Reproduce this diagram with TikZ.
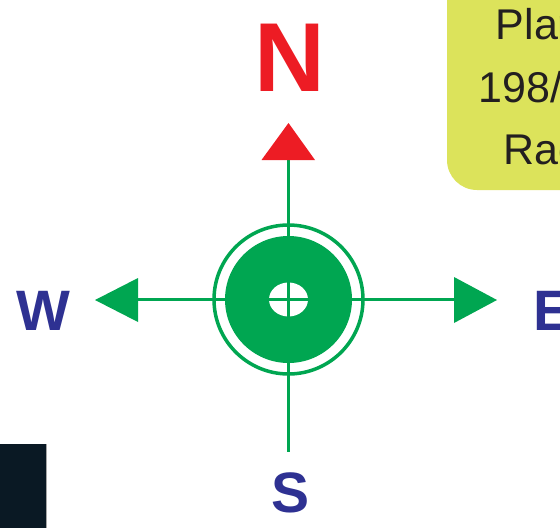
\documentclass[tikz,border=0pt]{standalone}
\usepackage{fontspec}
\setmainfont{Liberation Sans}
\definecolor{cred}{HTML}{ED1C24}
\definecolor{cgreen}{HTML}{00A651}
\definecolor{cblue}{HTML}{2E3192}
\definecolor{cyellow}{HTML}{DCE35B}
\definecolor{cdark}{HTML}{0A1924}
\definecolor{ctext}{HTML}{231F20}
\begin{document}
\begin{tikzpicture}[x=1pt,y=-1pt,
  dirlabel/.style={inner sep=0pt, anchor=base, font=\bfseries\fontsize{57}{57}\selectfont, text=cblue},
  boxtext/.style={inner sep=0pt, anchor=base west, font=\fontsize{43}{43}\selectfont, text=ctext},
  axis/.style={cgreen, line width=3pt},
  tip/.style={fill=cgreen}]
\useasboundingbox (0,0) rectangle (560,528);
\clip (0,0) rectangle (560,528);
% yellow box
\fill[cyellow, rounded corners=30pt] (447,-40) rectangle (620,190);
\node[boxtext] (t1) at (495.6,39) {Plan};
\node[boxtext] (t2) at (478.3,102) {198/};
\node[boxtext] (t3) at (503.6,164) {Rag};
% dark block
\fill[cdark] (0,444) rectangle (46,528);
\draw[gray!70, line width=0.8pt] (46,444) -- (46,528);
% axes
\coordinate (c) at (288.5,299.5);
\coordinate (nb) at (288.5,158);
\coordinate (sb) at (288.5,452);
\coordinate (wb) at (136,299.5);
\coordinate (eb) at (456,299.5);
\draw[axis] (nb) -- (sb);
\draw[axis] (wb) -- (eb);
% circles
\draw[cgreen, line width=3.5pt] (c) circle[radius=74.5];
\fill[cgreen] (c) circle[radius=63.5];
\fill[white] (c) ellipse[x radius=19.5, y radius=17];
\draw[axis] (288.5,282) -- (288.5,317);
\draw[axis] (268,299.5) -- (309,299.5);
% arrowheads
\fill[cred] (288.5,123) -- (261.5,160) -- (315,160) -- cycle;
\fill[tip] (95,300) -- (138,278) -- (138,322) -- cycle;
\fill[tip] (497,300) -- (454,277) -- (454,323) -- cycle;
% labels
\node[inner sep=0pt, anchor=base, font=\bfseries\fontsize{98}{98}\selectfont, text=cred] (N) at (290,91) {N};
\node[dirlabel] (W) at (43.5,330) {W};
\node[dirlabel] (S) at (291,512) {S};
\node[dirlabel, anchor=base west] (E) at (533.5,330) {E};
\end{tikzpicture}
\end{document}
